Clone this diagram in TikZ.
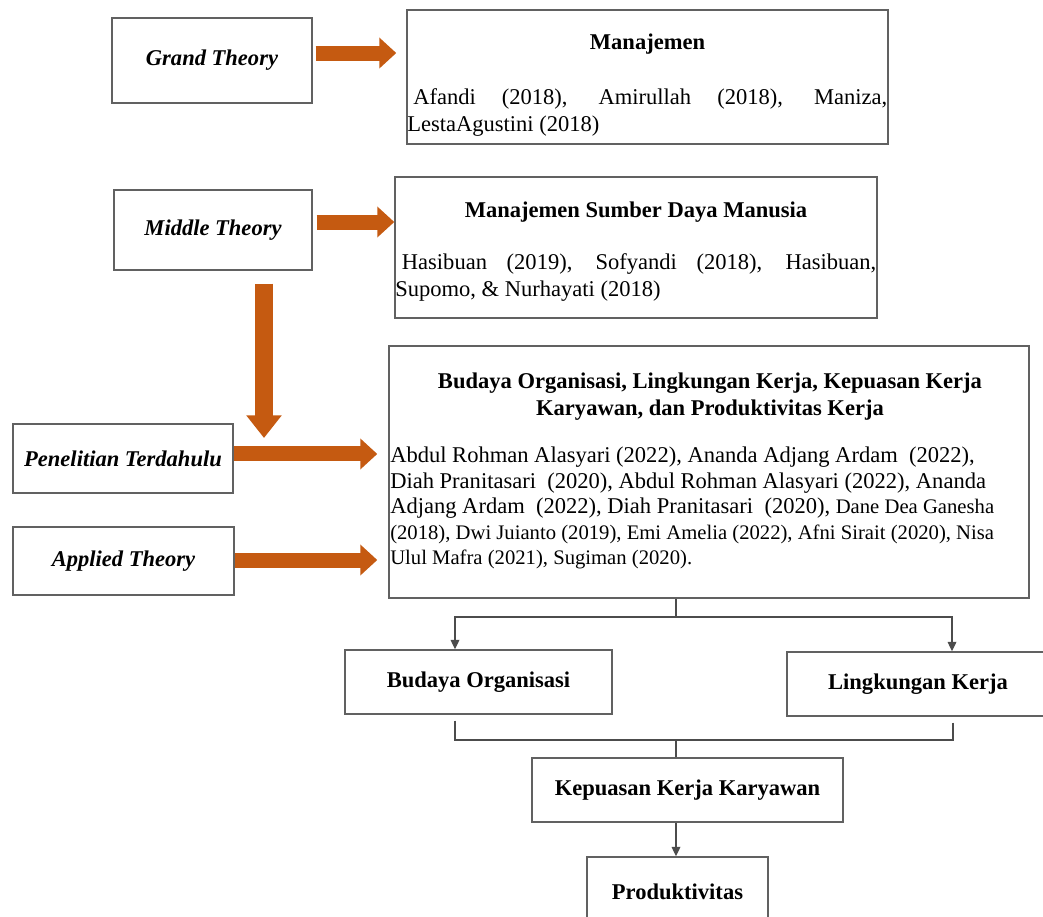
\documentclass[tikz,border=0pt]{standalone}
\usepackage{fontspec}
\setmainfont{Liberation Serif}
\usetikzlibrary{arrows.meta}
\usetikzlibrary{calc}

\begin{document}
\begin{tikzpicture}[x=0.75pt,y=-0.75pt]
\definecolor{arrorange}{RGB}{197,90,17}
\colorlet{boxgray}{black!62}
\colorlet{linegray}{black!70}
\def\u{0.75pt}                                      % one pixel of the source
\def\bigfont{\fontsize{16.9}{20.25}\selectfont}     % 12pt text, scaled
\def\smallrefs{\fontsize{15.5}{19.1}\selectfont}    % 11pt text, scaled
\tikzstyle{bigarr}=[draw=arrorange,line width=11.25pt,-{Triangle[length=12.75pt,width=22.5pt]}]
\tikzstyle{smallarr}=[-{Triangle[length=7pt,width=6.5pt]}]
\tikzset{
box/.style={draw=boxgray,line width=1.1pt,inner sep=0pt},
theorybox/.style={box,font=\bigfont\bfseries\itshape},
varbox/.style={box,font=\bigfont\bfseries},
heading/.style={inner sep=0pt,font=\bigfont\bfseries},
refs/.style={inner sep=0pt,font=\bigfont},
conn/.style={draw=linegray,line width=0.9pt},
}

\clip (0,0) rectangle (1043,917);

% THEORY LEVELS
\node[theorybox,minimum width=200*\u,minimum height=85*\u] (grand) at (212,60.5) {\raisebox{3pt}{Grand Theory}};
\node[theorybox,minimum width=198*\u,minimum height=80*\u] (middle) at (213,230) {Middle Theory};
\node[theorybox,minimum width=220*\u,minimum height=69*\u] (prev) at (123,458.5) {Penelitian Terdahulu};
\node[theorybox,minimum width=221*\u,minimum height=68*\u] (applied) at (123.5,561) {Applied Theory};

% REFERENCE BOXES
\node[box,minimum width=481*\u,minimum height=134*\u] (mgmt) at (647.5,77) {};
\node[heading,anchor=base] (mgmt-t) at (647.5,50) {Manajemen};
\node[refs,align=justify,text width=480*\u,anchor=north west] (mgmt-r) at (407,88)
{\hspace*{4.5pt}Afandi (2018), Amirullah (2018), Maniza,\linebreak LestaAgustini (2018)};

\node[box,minimum width=482*\u,minimum height=141*\u] (hrm) at (636,247.5) {};
\node[heading,anchor=base] (hrm-t) at (636,217) {Manajemen Sumber Daya Manusia};
\node[refs,align=justify,text width=481*\u,anchor=north west] (hrm-r) at (395,253)
{\hspace*{5pt}Hasibuan (2019), Sofyandi (2018), Hasibuan,\linebreak Supomo, \& Nurhayati (2018)};

\node[box,minimum width=640*\u,minimum height=252*\u] (lit) at (709,472) {};
\node[heading,align=center,anchor=north] (lit-t) at (710,373)
{Budaya Organisasi, Lingkungan Kerja, Kepuasan Kerja\\Karyawan, dan Produktivitas Kerja};
\node[refs,align=left,anchor=north west,font=\fontsize{16.9}{19.1}\selectfont] (lit-r) at (390,447)
{Abdul Rohman Alasyari (2022), Ananda Adjang Ardam\ \ (2022),\\
Diah Pranitasari\ \ (2020), Abdul Rohman Alasyari (2022), Ananda\\
Adjang Ardam\ \ (2022), Diah Pranitasari\ \ (2020), {\smallrefs Dane Dea Ganesha}\\
{\smallrefs (2018), Dwi Juianto (2019), Emi Amelia (2022), Afni Sirait (2020), Nisa}\\
{\smallrefs Ulul Mafra (2021), Sugiman (2020).}};

% VARIABLES
\node[varbox,minimum width=267*\u,minimum height=64*\u] (culture) at (478.5,682) {Budaya Organisasi};
\node[varbox,minimum width=262*\u,minimum height=64*\u] (env) at (918,684) {Lingkungan Kerja};
\node[varbox,minimum width=311*\u,minimum height=64*\u] (sat) at (687.5,790) {Kepuasan Kerja Karyawan};
\node[varbox,minimum width=181*\u,minimum height=70*\u] (prod) at (677.5,892) {Produktivitas};

% ORANGE ARROWS
\coordinate (drop) at (264,438);  % tip of the downward arrow
\draw[bigarr,shorten <=2.25pt,shorten >=7.5pt] ([yshift=5.6pt]grand.east) -- ([yshift=5.6pt]grand.east -| mgmt.west);
\draw[bigarr,shorten <=3pt] ([yshift=6pt]middle.east) -- ([yshift=6pt]middle.east -| hrm.west);
\draw[bigarr,line width=13.5pt,-{Triangle[length=17pt,width=25.5pt]},shorten <=9.75pt] (middle.south -| drop) -- (drop);
\draw[bigarr,shorten >=8.25pt] ([yshift=3.4pt]prev.east) -- ([yshift=3.4pt]prev.east -| lit.west);
\draw[bigarr,shorten >=8.25pt] ([yshift=0.75pt]applied.east) -- ([yshift=0.75pt]applied.east -| lit.west);

% CONNECTORS
\coordinate (split) at (676,617);
\coordinate (merge) at (676,740);
\draw[conn] (lit.south -| split) -- (split);
\draw[conn,smallarr] (split) -| ($(culture.north)+(-23.5,0)$);
\draw[conn,smallarr] (split) -| ($(env.north)+(34,0)$);
\draw[conn,shorten <=4.5pt] ($(culture.south)+(-23.5,0)$) |- (merge);
\draw[conn,shorten <=4.5pt] ($(env.south)+(35,0)$) |- (merge);
\draw[conn] (merge) -- (sat.north -| merge);
\draw[conn,smallarr] (sat.south -| merge) -- (prod.north -| merge);

\end{tikzpicture}
\end{document}
